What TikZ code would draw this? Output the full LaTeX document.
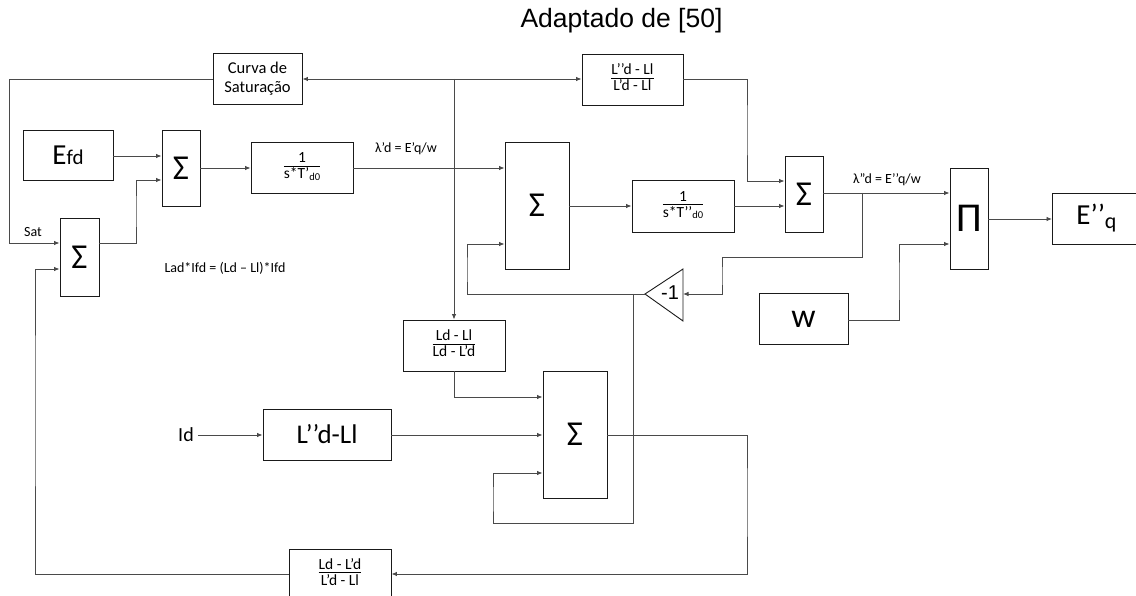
\documentclass[tikz,border=0pt]{standalone}
\usepackage{fontspec}
\setmainfont{Carlito}
\newfontfamily\arialfont{Liberation Sans}
\usetikzlibrary{positioning,arrows.meta}
\definecolor{LineGray}{HTML}{4A4A4A}
\definecolor{BoxEdge}{HTML}{1A1A1A}
\newcommand{\fr}[2]{\setlength{\arrayrulewidth}{0.8pt}\begin{tabular}{@{}c@{}}#1\\[-2pt]\hline\rule{0pt}{12.5pt}#2\end{tabular}}
\newcommand{\sbx}[1]{\raisebox{-1.5pt}{\fontsize{10.5}{10.5}\selectfont #1}}

\begin{document}
\begin{tikzpicture}[
    x=1pt, y=-1pt,
    block/.style={rectangle, draw=BoxEdge, line width=0.9pt, inner sep=0pt, align=center, font=\fontsize{15.5}{16.5}\selectfont},
    sumblk/.style={block, minimum width=38pt, font=\fontsize{35}{35}\selectfont},
    txt/.style={inner sep=1pt, font=\fontsize{14}{15}\selectfont},
    arrow/.style={-{Latex[length=5.5pt,width=4.5pt]}, line width=0.9pt, LineGray}
  ]
    \useasboundingbox (0,0) rectangle (1136,596);

    % Title
    \node (title) at (621.5,21) {\arialfont\fontsize{26.5}{27}\selectfont Adaptado de [50]};

    % Upper row
    \node (curva) [block, minimum width=89pt, minimum height=51pt, font=\fontsize{16.5}{18.5}\selectfont] at (257.5,78.5) {Curva de\\Saturação};
    \node (lpp) [block, minimum width=101pt, minimum height=51pt] at (632.5,79.5) {\fr{L’’d - Ll}{L’d - Ll}};
    \node (efd) [block, minimum width=90pt, minimum height=50pt] at (68,155) {\fontsize{29}{29}\selectfont E{\fontsize{21}{21}\selectfont fd}};
    \node (sum1) [sumblk, minimum height=76pt] at (181,168) {Σ};
    \node (sumsat) [sumblk, minimum width=39pt, minimum height=78pt] at (79.5,257) {Σ};
    \node (tpd0) [block, minimum width=102pt, minimum height=51pt] at (302,167.5) {\fr{1}{s*T’\sbx{d0}}};
    \node (sum2) [sumblk, minimum width=64pt, minimum height=127pt] at (537,205.5) {Σ};
    \node (tppd0) [block, minimum width=102pt, minimum height=52pt] at (683,206) {\fr{1}{s*T’’\sbx{d0}}};
    \node (sum3) [sumblk, minimum height=76pt] at (804,194) {Σ};
    \node (prod) [sumblk, minimum height=101pt, font=\fontsize{41}{41}\selectfont] at (969,218.5) {Π};
    \node (eq) [block, minimum width=90pt, minimum height=51pt, anchor=west] at (1052,218.5) {\hspace*{-2pt}\fontsize{29}{29}\selectfont E’’\raisebox{-4pt}{\fontsize{22}{22}\selectfont q}};
    \node (wbox) [block, minimum width=89pt, minimum height=51pt, font=\fontsize{34}{34}\selectfont] at (803.5,319) {w};

    % Gain -1
    \coordinate (gout) at (645,294);
    \coordinate (gin) at (683,294);
    \draw [BoxEdge, line width=0.9pt] (gout) -- (683,269) -- (683,321) -- cycle;
    \node (gain) at (670,293) {\arialfont\fontsize{20}{20}\selectfont -1};

    % Lower row
    \node (ldl) [block, minimum width=102pt, minimum height=51pt] at (454,345.5) {\fr{Ld - Ll}{Ld - L’d}};
    \node (sum4) [sumblk, minimum width=64pt, minimum height=127pt] at (575,434.5) {Σ};
    \node (lppdl) [block, minimum width=128pt, minimum height=51pt, font=\fontsize{27}{27}\selectfont] at (327,434.5) {L’’d-Ll};
    \node (id) [inner sep=4pt, font=\fontsize{20}{20}\selectfont] at (186,435) {Id};
    \node (bot) [block, minimum width=102pt, minimum height=50pt] at (340,574) {\fr{Ld - L’d}{L’d - Ll}};

    % Labels
    \node (sat) [txt] at (33,232) {Sat};
    \node (lad) [txt] at (225,268) {Lad*Ifd = (Ld – Ll)*Ifd};
    \node (lam1) [txt] at (406,149) {λ'd = E’q/w};
    \node (lam2) [txt] at (887,180) {λ"d = E’’q/w};

    % Connections
    \coordinate (tap) at (454,79);
    \draw [arrow] (tap) -- (curva.east |- tap);
    \draw [arrow] (tap) -- (lpp.west |- tap);
    \draw [arrow] (tap) -- (ldl.north);
    \draw [arrow] (curva.west |- tap) -- (9,79) |- (sumsat.west |- 0,243);
    \draw [arrow] (efd.east |- 0,156) -- (sum1.west |- 0,156);
    \draw [arrow] (sumsat.east |- 0,243) -| (136,211) |- (sum1.west |- 0,180);
    \draw [arrow] (sum1.east) -- (tpd0.west |- sum1.east);
    \draw [arrow] (tpd0.east |- 0,168) -- (sum2.west |- 0,168);
    \draw [arrow] (sum2.east |- 0,206) -- (tppd0.west |- 0,206);
    \draw [arrow] (tppd0.east |- 0,206) -- (sum3.west |- 0,206);
    \draw [arrow] (lpp.east |- tap) -| (747,130) |- (sum3.west |- 0,181);
    \draw [arrow] (sum3.east |- 0,193) -- (prod.west |- 0,193);
    \draw [arrow] (862,193) -- (862,257) -| (722,276) |- (gin);
    \draw [arrow] (gout) -| (467,270) |- (sum2.west |- 0,244);
    \draw [arrow] (633,294) -- (633,523) -| (493,500) |- (sum4.west |- 0,473);
    \draw [arrow] (wbox.east |- 0,320) -| (899,280) |- (prod.west |- 0,244);
    \draw [arrow] (prod.east |- 0,219) -- (eq.west |- 0,219);
    \draw [arrow] (ldl.south) |- (sum4.west |- 0,397);
    \draw [arrow] (id.east) -- (lppdl.west |- id.east);
    \draw [arrow] (lppdl.east |- 0,435) -- (sum4.west |- 0,435);
    \draw [arrow] (sum4.east |- 0,435) -| (747,500) |- (bot.east |- 0,574);
    \draw [arrow] (bot.west |- 0,574) -| (35,400) |- (sumsat.west |- 0,269);
  \end{tikzpicture}
\end{document}
